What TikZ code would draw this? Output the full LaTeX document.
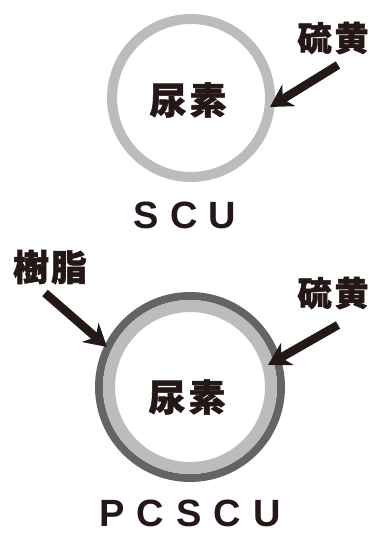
\documentclass[tikz,border=0pt]{standalone}
\usepackage{fontspec}
\setmainfont{Liberation Sans}
\newfontfamily\cjk{Noto Sans CJK JP}[BoldFeatures={FakeBold=1.5}]
\usetikzlibrary{arrows.meta}
\definecolor{ink}{RGB}{35,24,21}
\definecolor{lightring}{RGB}{188,188,188}
\definecolor{darkring}{RGB}{100,100,100}
\tikzset{
  x=1pt, y=1pt,
  cjklabel/.style={text=ink, font=\cjk\bfseries\fontsize{34}{34}\selectfont, inner sep=0pt},
  corelabel/.style={text=ink, font=\cjk\bfseries\fontsize{37}{37}\selectfont, inner sep=0pt},
  namelabel/.style={text=ink, font=\bfseries\fontsize{38}{38}\selectfont, inner sep=0pt},
  bigarrow/.style={draw=ink, line width=8.5pt, -{Stealth[length=22pt, width=25pt, inset=7pt]}},
  ring/.style={circle, inner sep=0pt, outer sep=0pt}
}
\begin{document}
\begin{tikzpicture}
\useasboundingbox (0,0) rectangle (374,535);
% SCU
\node[ring, draw=lightring, line width=10pt, minimum size=158pt] (scu) at (191,437) {};
\node[corelabel] (ureaA) at (188,435) {尿\kern3pt素};
\node[cjklabel] (sulfA) at (333,497) {硫\kern3pt黄};
\coordinate (sulfAtail) at (338,470);
\coordinate (sulfAtip) at (270,428);
\draw[bigarrow] (sulfAtail) -- (sulfAtip);
\node[namelabel] (scuname) at (185,320) {S\hspace{11pt}C\hspace{11pt}U};
% PCSCU
\node[ring, draw=darkring, line width=8pt, minimum size=182pt] (pcscuout) at (190,148) {};
\node[ring, draw=lightring, line width=12pt, minimum size=162pt] (pcscuin) at (190,148) {};
\node[corelabel] (ureaB) at (187,138) {尿\kern3pt素};
\node[cjklabel, font=\cjk\bfseries\fontsize{36}{36}\selectfont] (resin) at (50,268) {樹\kern2pt脂};
\node[cjklabel] (sulfB) at (333,242) {硫\kern3pt黄};
\coordinate (resintail) at (45,242);
\coordinate (resintip) at (107,188);
\coordinate (sulfBtail) at (338,210);
\coordinate (sulfBtip) at (268,170);
\draw[bigarrow] (resintail) -- (resintip);
\draw[bigarrow] (sulfBtail) -- (sulfBtip);
\node[namelabel] (pcscuname) at (190,22) {P\hspace{12pt}C\hspace{12pt}S\hspace{12pt}C\hspace{12pt}U};
\end{tikzpicture}
\end{document}
